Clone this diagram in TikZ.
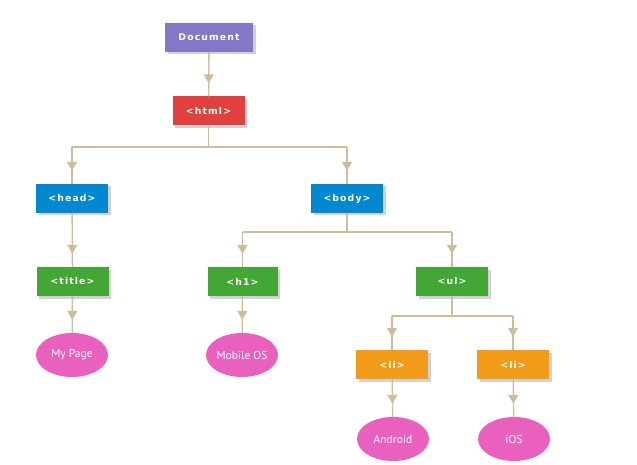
\documentclass[tikz,border=0pt]{standalone}
\usepackage{fontspec}
\setmainfont{DejaVu Sans}
\newfontfamily\tagfont[LetterSpace=12]{DejaVu Sans}
\newfontfamily\leaffont{PT Sans}
\usetikzlibrary{shapes.geometric,shadows,decorations.markings,arrows.meta}
\definecolor{docpurple}{HTML}{8577C8}
\definecolor{htmlred}{HTML}{E0413F}
\definecolor{tagblue}{HTML}{0288D1}
\definecolor{taggreen}{HTML}{43A735}
\definecolor{tagorange}{HTML}{F39C1A}
\definecolor{leafpink}{HTML}{E960BE}
\definecolor{linktan}{HTML}{CDBD9C}
\tikzset{
  tagbox/.style={rectangle, minimum width=72pt, minimum height=29pt, inner sep=0pt,
    text=white, font=\tagfont\bfseries\fontsize{9.3}{11}\selectfont,
    drop shadow={shadow xshift=2.5pt, shadow yshift=-2.5pt, fill=black!22, opacity=0.8}},
  leaf/.style={ellipse, fill=leafpink, minimum width=72pt, minimum height=44pt, inner sep=0pt,
    text=white, font=\leaffont\fontsize{11.5}{12}\selectfont},
  link/.style={draw=linktan, line width=1.3pt},
  arr/.style={link, postaction={decorate}, decoration={markings,
    mark=at position -13pt with {\arrow[linktan]{Triangle[width=10pt,length=9pt]}}}}
}
\begin{document}
\begin{tikzpicture}[x=1pt,y=-1pt]
\useasboundingbox (0,0) rectangle (637,465);
% element boxes
\node[tagbox, fill=docpurple, minimum width=88pt] (doc) at (209,37.5) {Document};
\node[tagbox, fill=htmlred] (html) at (208.5,111) {<html>};
\node[tagbox, fill=tagblue] (head) at (72,198.5) {<head>};
\node[tagbox, fill=tagblue] (body) at (347,198.5) {<body>};
\node[tagbox, fill=taggreen] (title) at (72.5,281.5) {<title>};
\node[tagbox, fill=taggreen, minimum width=70pt] (h1) at (242.5,281.5) {<h1>};
\node[tagbox, fill=taggreen] (ul) at (452,281.5) {<ul>};
\node[tagbox, fill=tagorange] (li1) at (392,364.5) {<li>};
\node[tagbox, fill=tagorange] (li2) at (513,364.5) {<li>};
% text leaves
\node[leaf] (mypage) at (72,355) {My Page};
\node[leaf] (mobile) at (242,355) {Mobile OS};
\node[leaf] (android) at (393,439) {Android};
\node[leaf] (ios) at (514,439) {iOS};
% branch junctions
\coordinate (j1) at (208.5,147);
\coordinate (j2) at (347,232);
\coordinate (j3) at (452,316);
% connectors
\draw[arr] (doc) -- (html);
\draw[link] (html) -- (j1);
\draw[link] (head |- j1) -- (body |- j1);
\draw[arr] (head |- j1) -- (head);
\draw[arr] (body |- j1) -- (body);
\draw[arr] (head) -- (title);
\draw[arr] (title) -- (mypage);
\draw[link] (body) -- (j2);
\draw[link] (h1 |- j2) -- (ul |- j2);
\draw[arr] (h1 |- j2) -- (h1);
\draw[arr] (ul |- j2) -- (ul);
\draw[arr] (h1) -- (mobile);
\draw[link] (ul) -- (j3);
\draw[link] (li1 |- j3) -- (li2 |- j3);
\draw[arr] (li1 |- j3) -- (li1);
\draw[arr] (li2 |- j3) -- (li2);
\draw[arr] (li1) -- (android);
\draw[arr] (li2) -- (ios);
\end{tikzpicture}
\end{document}
